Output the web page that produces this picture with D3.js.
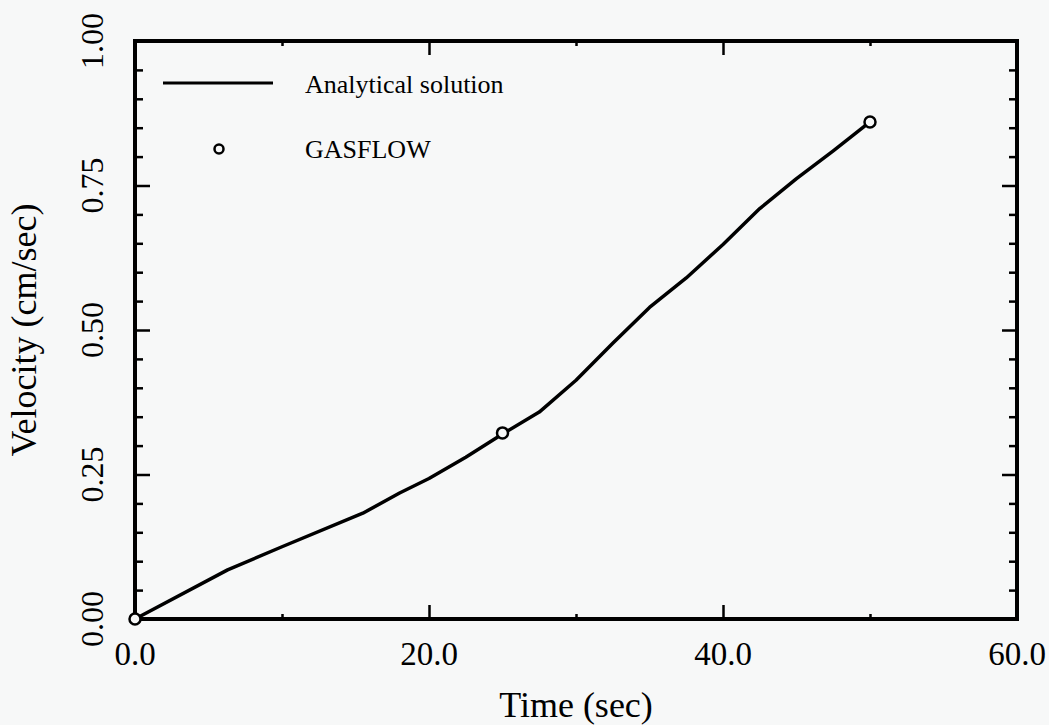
<!DOCTYPE html>
<html>
<head>
<meta charset="utf-8">
<script src="https://cdn.jsdelivr.net/npm/d3@7"></script>
<style>
  html, body { margin: 0; padding: 0; background: #f7f8f8; }
  svg { display: block; }
  text { font-family: "Liberation Serif", "Times New Roman", serif; fill: #000; }
</style>
</head>
<body>
<svg id="chart" width="1049" height="725"></svg>
<script>
// Analytical solution: velocity (cm/sec) versus time (sec)
const analyticTime = [0, 6.3, 10, 15.5, 18, 20, 22.5, 25, 27.5, 30, 32.5, 35, 37.5, 40, 42.5, 45, 47.5, 50];
const analyticVel  = [0, 0.085, 0.125, 0.183, 0.218, 0.243, 0.28, 0.32, 0.358, 0.413, 0.477, 0.539, 0.59, 0.648, 0.71, 0.762, 0.81, 0.86];

// GASFLOW results
const gasflowTime = [0, 25, 50];
const gasflowVel  = [0, 0.322, 0.86];

// Axis ticks
const xMajorTicks = [0, 20, 40, 60];
const xMinorTicks = [10, 30, 50];
const xTickLabels = ["0.0", "20.0", "40.0", "60.0"];
const yMajorTicks = [0, 0.25, 0.5, 0.75, 1.0];
const yMinorTicks = [0.05, 0.1, 0.15, 0.2, 0.3, 0.35, 0.4, 0.45, 0.55, 0.6, 0.65, 0.7, 0.8, 0.85, 0.9, 0.95];
const yTickLabels = ["0.00", "0.25", "0.50", "0.75", "1.00"];

const legendLabels = ["Analytical solution", "GASFLOW"];

const svg = d3.select("#chart");
const plot = { left: 135, right: 1017, top: 41, bottom: 619 };

const x = d3.scaleLinear().domain([0, 60]).range([plot.left, plot.right]);
const y = d3.scaleLinear().domain([0, 1]).range([plot.bottom, plot.top]);

// Inward ticks on all four sides
function tickAxis(axisFn, scale, values, size, transform) {
  const g = svg.append("g")
    .attr("transform", transform)
    .call(axisFn(scale).tickValues(values).tickSize(-size).tickFormat(""));
  g.select(".domain").remove();
  g.selectAll(".tick line").attr("stroke", "#000").attr("stroke-width", 2.5);
}
tickAxis(d3.axisBottom, x, xMajorTicks, 14, `translate(0,${plot.bottom})`);
tickAxis(d3.axisBottom, x, xMinorTicks, 5, `translate(0,${plot.bottom})`);
tickAxis(d3.axisTop, x, xMajorTicks, 14, `translate(0,${plot.top})`);
tickAxis(d3.axisTop, x, xMinorTicks, 5, `translate(0,${plot.top})`);
tickAxis(d3.axisLeft, y, yMajorTicks, 15, `translate(${plot.left},0)`);
tickAxis(d3.axisLeft, y, yMinorTicks, 8, `translate(${plot.left},0)`);
tickAxis(d3.axisRight, y, yMajorTicks, 15, `translate(${plot.right},0)`);
tickAxis(d3.axisRight, y, yMinorTicks, 8, `translate(${plot.right},0)`);

// Frame
svg.append("rect")
  .attr("x", plot.left).attr("y", plot.top)
  .attr("width", plot.right - plot.left).attr("height", plot.bottom - plot.top)
  .attr("fill", "none").attr("stroke", "#000").attr("stroke-width", 4);

// Tick labels
svg.append("g").selectAll("text")
  .data(xMajorTicks)
  .join("text")
  .attr("x", d => x(d))
  .attr("y", 665)
  .attr("text-anchor", "middle")
  .attr("font-size", 33)
  .text((d, i) => xTickLabels[i]);

svg.append("g").selectAll("text")
  .data(yMajorTicks)
  .join("text")
  .attr("transform", d => `translate(103,${y(d)}) rotate(-90)`)
  .attr("text-anchor", "middle")
  .attr("font-size", 32)
  .text((d, i) => yTickLabels[i]);

// Axis titles
svg.append("text")
  .attr("x", (plot.left + plot.right) / 2)
  .attr("y", 717)
  .attr("text-anchor", "middle")
  .attr("font-size", 36)
  .text("Time (sec)");

svg.append("text")
  .attr("transform", `translate(36,${(plot.top + plot.bottom) / 2}) rotate(-90)`)
  .attr("text-anchor", "middle")
  .attr("font-size", 36)
  .text("Velocity (cm/sec)");

// Analytical curve
const analytic = analyticTime.map((t, i) => [t, analyticVel[i]]);
svg.append("path")
  .datum(analytic)
  .attr("fill", "none")
  .attr("stroke", "#000")
  .attr("stroke-width", 3.5)
  .attr("stroke-linejoin", "round")
  .attr("d", d3.line().x(d => x(d[0])).y(d => y(d[1])));

// GASFLOW markers
svg.append("g").selectAll("circle")
  .data(gasflowTime.map((t, i) => [t, gasflowVel[i]]))
  .join("circle")
  .attr("cx", d => x(d[0]))
  .attr("cy", d => y(d[1]))
  .attr("r", 5.5)
  .attr("fill", "#f7f8f8")
  .attr("stroke", "#000")
  .attr("stroke-width", 2.5);

// Legend
const legend = svg.append("g");
legend.append("line")
  .attr("x1", 163).attr("x2", 273)
  .attr("y1", 83).attr("y2", 83)
  .attr("stroke", "#000").attr("stroke-width", 3);
legend.append("circle")
  .attr("cx", 219).attr("cy", 149).attr("r", 4.5)
  .attr("fill", "none").attr("stroke", "#000").attr("stroke-width", 2.5);
legend.selectAll("text")
  .data(legendLabels)
  .join("text")
  .attr("x", 305)
  .attr("y", (d, i) => [93, 158][i])
  .attr("font-size", 26)
  .text(d => d);
</script>
</body>
</html>
